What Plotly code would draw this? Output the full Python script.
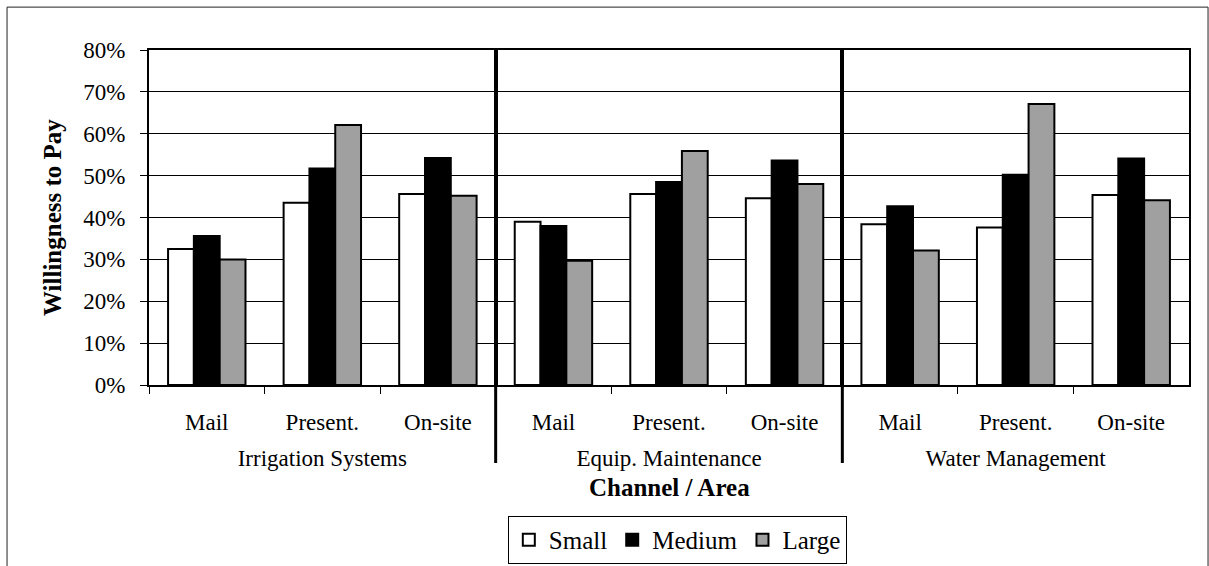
import plotly.graph_objects as go
from plotly.subplots import make_subplots

areas = ["Irrigation Systems", "Equip. Maintenance", "Water Management"]
channels = ["Mail", "Present.", "On-site"]
sizes = ["Small", "Medium", "Large"]

# values per area: [Mail, Present., On-site]
small = [[0.325, 0.435, 0.456], [0.390, 0.456, 0.446], [0.384, 0.376, 0.454]]
medium = [[0.356, 0.517, 0.542], [0.380, 0.485, 0.536], [0.427, 0.502, 0.541]]
large = [[0.300, 0.621, 0.452], [0.297, 0.559, 0.480], [0.321, 0.671, 0.441]]

colors = ["#ffffff", "#000000", "#a0a0a0"]

FONT = "Liberation Serif"

fig = make_subplots(rows=1, cols=3, shared_yaxes=True, horizontal_spacing=0)

for i, area in enumerate(areas):
    for name, vals, col in zip(sizes, [small, medium, large], colors):
        fig.add_trace(go.Bar(
            x=channels, y=vals[i], name=name, legendgroup=name,
            showlegend=(i == 0),
            marker=dict(color=col, line=dict(color="#000000", width=2)),
        ), row=1, col=i + 1)
    fig.update_xaxes(
        title=dict(text=area, font=dict(size=23, family=FONT), standoff=16),
        type="category", showline=True, linecolor="#000", linewidth=2,
        mirror=True, ticks="outside", ticklen=7, tickcolor="#000", tickwidth=1,
        tickson="boundaries", showgrid=False, ticklabelstandoff=15,
        tickfont=dict(size=23, family=FONT),
        row=1, col=i + 1,
    )
    fig.update_yaxes(
        range=[0, 0.8], dtick=0.1, tickformat=".0%",
        showline=True, linecolor="#000", linewidth=2, mirror=True,
        ticks="outside" if i == 0 else "", ticklen=7, tickcolor="#000", tickwidth=1,
        ticklabelstandoff=10,
        showgrid=True, gridcolor="#000", gridwidth=1, zeroline=False,
        tickfont=dict(size=23, family=FONT),
        row=1, col=i + 1,
    )

fig.update_layout(
    width=1209, height=566,
    margin=dict(l=149, r=20, t=50, b=181, autoexpand=False),
    paper_bgcolor="white", plot_bgcolor="white",
    barmode="group", bargap=0.33, bargroupgap=0,
    font=dict(family=FONT, size=23, color="#000"),
    showlegend=True,
    legend=dict(
        orientation="h", x=0.508, xanchor="center", y=-0.391, yanchor="top",
        bordercolor="#000", borderwidth=1, font=dict(size=25, family=FONT),
        traceorder="normal", itemwidth=30,
    ),
)

# group separators
for xp in [1/3, 2/3]:
    fig.add_shape(type="line", xref="paper", yref="paper",
                  x0=xp, x1=xp, y0=-0.233, y1=1,
                  line=dict(color="#000", width=3))

# outer chart border
fig.add_shape(type="rect", xref="paper", yref="paper",
              x0=-0.1365, x1=1.0183, y0=-0.56, y1=1.128,
              line=dict(color="#222", width=1), fillcolor="rgba(0,0,0,0)", layer="below")

fig.add_annotation(text="<b>Channel / Area</b>", xref="paper", yref="paper",
                   x=0.5, y=(385 - 487) / 335, xanchor="center", yanchor="middle",
                   showarrow=False, font=dict(size=25, family=FONT))
fig.add_annotation(text="<b>Willingness to Pay</b>", xref="paper", yref="paper",
                   x=(52 - 149) / 1040, y=(385 - 218) / 335, xanchor="center", yanchor="middle",
                   textangle=-90, showarrow=False, font=dict(size=25, family=FONT))

fig.write_html("out.html", config={"displayModeBar": False},
               post_script="document.body.style.margin='0';")
